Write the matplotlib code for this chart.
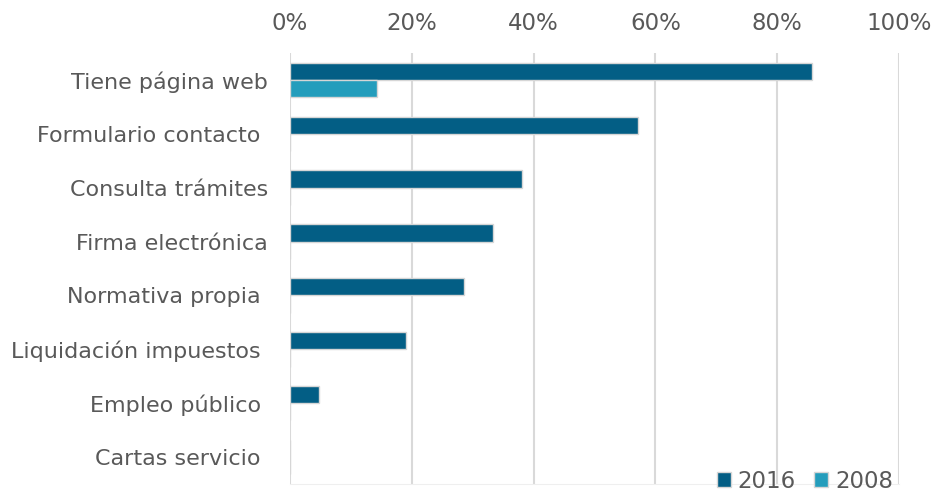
import matplotlib.pyplot as plt
import numpy as np

# share of town halls offering each e-service
categorias = ['Tiene página web', 'Formulario contacto ', 'Consulta trámites',
              'Firma electrónica', 'Normativa propia ', 'Liquidación impuestos ',
              'Empleo público ', 'Cartas servicio ']
v2016 = [85.7, 57.1, 38.1, 33.3, 28.6, 19.0, 4.8, 0.0]
v2008 = [14.3, 0, 0, 0, 0, 0, 0, 0]
ticks = [0, 20, 40, 60, 80, 100]

c2016 = '#035e85'
c2008 = '#249dbc'
gris = '#595959'

fig = plt.figure(figsize=(9.34, 4.94), dpi=100)
ax = fig.add_axes([0.3105, 0.0202, 0.652, 0.8725])

y = np.arange(len(categorias))
h = 0.32
ax.barh(y - h/2, v2016, height=h, color=c2016, edgecolor='#d6d6d6', linewidth=1, label='2016', zorder=3)
ax.barh(y + h/2, v2008, height=h, color=c2008, edgecolor='#d6d6d6', linewidth=1, label='2008', zorder=3)

ax.set_ylim(len(categorias) - 0.5, -0.5)
ax.set_xlim(0, 100)
ax.set_yticks(y)
ax.set_yticklabels(categorias, fontsize=16, color=gris)
ax.xaxis.tick_top()
ax.set_xticks(ticks)
ax.set_xticklabels([f'{t}%' for t in ticks], fontsize=16.5, color=gris)
ax.tick_params(axis='both', length=0)
ax.tick_params(axis='x', pad=13)
ax.tick_params(axis='y', pad=16)

ax.grid(axis='x', color='#d9d9d9', linewidth=1.5, zorder=0)
for s in ['top', 'right', 'left']:
    ax.spines[s].set_visible(False)
ax.spines['bottom'].set_color('#efefef')

leg = ax.legend(loc='lower right', bbox_to_anchor=(0.99, -0.02), ncol=2, frameon=False,
                fontsize=16.5, handlelength=0.6, handleheight=0.6, handletextpad=0.3,
                columnspacing=0.8, borderaxespad=0, borderpad=0)
for t in leg.get_texts():
    t.set_color(gris)

fig.savefig('out.png', dpi=100)
